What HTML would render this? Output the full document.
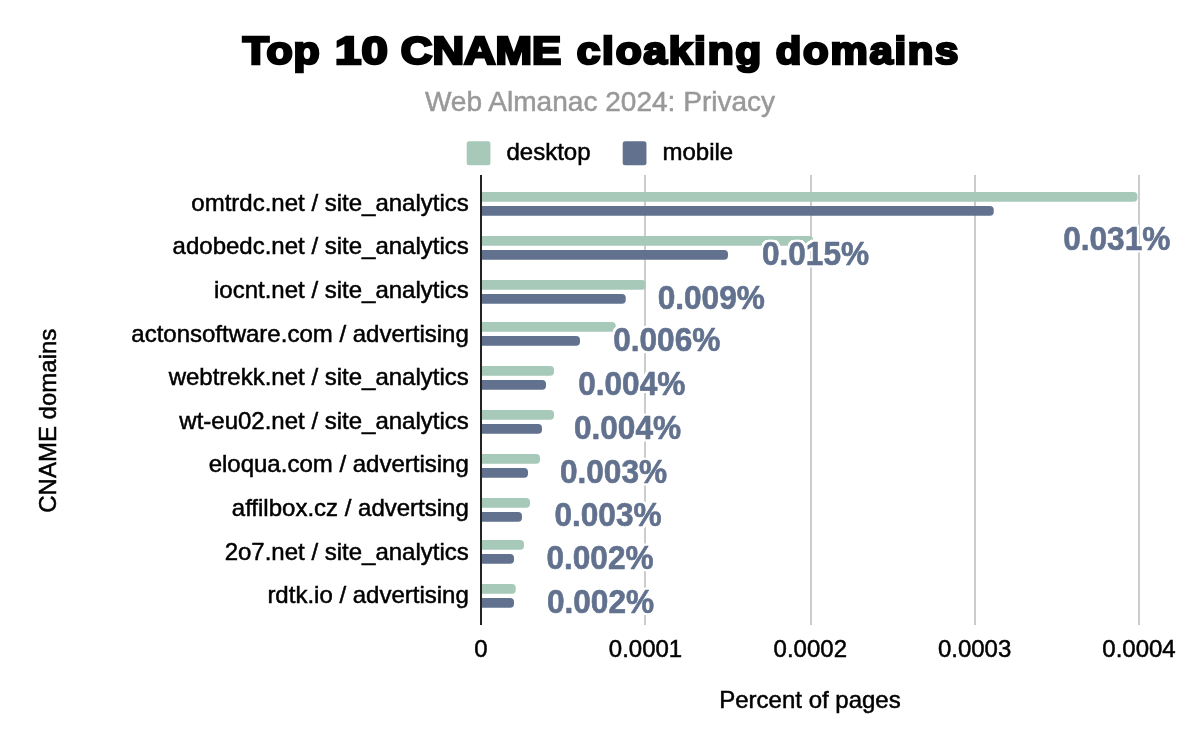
<!DOCTYPE html>
<html><head><meta charset="utf-8"><title>Top 10 CNAME cloaking domains</title>
<style>
html,body{margin:0;padding:0;background:#fff;}
svg{display:block;font-family:"Liberation Sans",Arial,sans-serif;}
.t{font-size:24px;fill:#000;stroke:#000;stroke-width:0.5px;}
.lb{font-size:32px;font-weight:bold;}
.halo{fill:#fff;stroke:#fff;stroke-width:4px;stroke-linejoin:round;}
.dl{fill:#61718e;stroke:#61718e;stroke-width:0.6px;stroke-linejoin:round;}
</style></head><body>
<svg width="1200" height="742" viewBox="0 0 1200 742">
<rect width="1200" height="742" fill="#fff"/>
<text y="63.8" font-size="38.6" font-weight="bold" fill="#000" stroke="#000" stroke-width="2.6" stroke-linejoin="miter"><tspan x="242.71" letter-spacing="0.8" textLength="77.95" lengthAdjust="spacingAndGlyphs">Top</tspan> <tspan x="335.12" letter-spacing="0" textLength="52.62" lengthAdjust="spacingAndGlyphs">10</tspan> <tspan x="400.88" letter-spacing="0" textLength="160.31" lengthAdjust="spacingAndGlyphs">CNAME</tspan> <tspan x="576.74" letter-spacing="1.6" textLength="186.3" lengthAdjust="spacingAndGlyphs">cloaking</tspan> <tspan x="775.8" letter-spacing="1.6" textLength="184.31" lengthAdjust="spacingAndGlyphs">domains</tspan></text>
<text x="600" y="110.8" text-anchor="middle" font-size="28.05" fill="#999" stroke="#999" stroke-width="0.5">Web Almanac 2024: Privacy</text>
<rect x="466.7" y="141.25" width="23.75" height="23.9" rx="2.5" fill="#a6c9ba"/>
<text class="t" x="506.5" y="159.5">desktop</text>
<rect x="622.7" y="141.25" width="23.75" height="23.9" rx="2.5" fill="#61718e"/>
<text class="t" x="662.5" y="159.5">mobile</text>
<rect x="644" y="175" width="2" height="450" fill="#ccc"/>
<rect x="810" y="175" width="2" height="450" fill="#ccc"/>
<rect x="974" y="175" width="2" height="450" fill="#ccc"/>
<rect x="1138" y="175" width="2" height="450" fill="#ccc"/>
<path d="M481 192.00 H1133.60 a3.9 3.9 0 0 1 3.9 3.9 V197.85 a3.9 3.9 0 0 1 -3.9 3.9 H481 Z" fill="#a6c9ba"/>
<path d="M481 206.00 H989.85 a3.9 3.9 0 0 1 3.9 3.9 V211.85 a3.9 3.9 0 0 1 -3.9 3.9 H481 Z" fill="#61718e"/>
<path d="M481 236.00 H809.35 a3.9 3.9 0 0 1 3.9 3.9 V241.85 a3.9 3.9 0 0 1 -3.9 3.9 H481 Z" fill="#a6c9ba"/>
<path d="M481 250.00 H724.10 a3.9 3.9 0 0 1 3.9 3.9 V255.85 a3.9 3.9 0 0 1 -3.9 3.9 H481 Z" fill="#61718e"/>
<path d="M481 280.00 H641.85 a3.9 3.9 0 0 1 3.9 3.9 V285.85 a3.9 3.9 0 0 1 -3.9 3.9 H481 Z" fill="#a6c9ba"/>
<path d="M481 294.00 H621.85 a3.9 3.9 0 0 1 3.9 3.9 V299.85 a3.9 3.9 0 0 1 -3.9 3.9 H481 Z" fill="#61718e"/>
<path d="M481 322.00 H611.85 a3.9 3.9 0 0 1 3.9 3.9 V327.85 a3.9 3.9 0 0 1 -3.9 3.9 H481 Z" fill="#a6c9ba"/>
<path d="M481 336.00 H576.10 a3.9 3.9 0 0 1 3.9 3.9 V341.85 a3.9 3.9 0 0 1 -3.9 3.9 H481 Z" fill="#61718e"/>
<path d="M481 366.00 H550.10 a3.9 3.9 0 0 1 3.9 3.9 V371.85 a3.9 3.9 0 0 1 -3.9 3.9 H481 Z" fill="#a6c9ba"/>
<path d="M481 380.00 H542.10 a3.9 3.9 0 0 1 3.9 3.9 V385.85 a3.9 3.9 0 0 1 -3.9 3.9 H481 Z" fill="#61718e"/>
<path d="M481 410.00 H550.10 a3.9 3.9 0 0 1 3.9 3.9 V415.85 a3.9 3.9 0 0 1 -3.9 3.9 H481 Z" fill="#a6c9ba"/>
<path d="M481 424.00 H538.10 a3.9 3.9 0 0 1 3.9 3.9 V429.85 a3.9 3.9 0 0 1 -3.9 3.9 H481 Z" fill="#61718e"/>
<path d="M481 454.00 H536.10 a3.9 3.9 0 0 1 3.9 3.9 V459.85 a3.9 3.9 0 0 1 -3.9 3.9 H481 Z" fill="#a6c9ba"/>
<path d="M481 468.00 H524.10 a3.9 3.9 0 0 1 3.9 3.9 V473.85 a3.9 3.9 0 0 1 -3.9 3.9 H481 Z" fill="#61718e"/>
<path d="M481 498.00 H526.10 a3.9 3.9 0 0 1 3.9 3.9 V503.85 a3.9 3.9 0 0 1 -3.9 3.9 H481 Z" fill="#a6c9ba"/>
<path d="M481 512.00 H518.10 a3.9 3.9 0 0 1 3.9 3.9 V517.85 a3.9 3.9 0 0 1 -3.9 3.9 H481 Z" fill="#61718e"/>
<path d="M481 540.00 H520.10 a3.9 3.9 0 0 1 3.9 3.9 V545.85 a3.9 3.9 0 0 1 -3.9 3.9 H481 Z" fill="#a6c9ba"/>
<path d="M481 554.00 H510.10 a3.9 3.9 0 0 1 3.9 3.9 V559.85 a3.9 3.9 0 0 1 -3.9 3.9 H481 Z" fill="#61718e"/>
<path d="M481 584.00 H511.85 a3.9 3.9 0 0 1 3.9 3.9 V589.85 a3.9 3.9 0 0 1 -3.9 3.9 H481 Z" fill="#a6c9ba"/>
<path d="M481 598.00 H510.10 a3.9 3.9 0 0 1 3.9 3.9 V603.85 a3.9 3.9 0 0 1 -3.9 3.9 H481 Z" fill="#61718e"/>
<rect x="480" y="175" width="2" height="450" fill="#222"/>
<text class="t" x="468.8" y="210.70" text-anchor="end">omtrdc.net / site_analytics</text>
<text class="t" x="468.8" y="254.32" text-anchor="end">adobedc.net / site_analytics</text>
<text class="t" x="468.8" y="297.94" text-anchor="end">iocnt.net / site_analytics</text>
<text class="t" x="468.8" y="341.56" text-anchor="end">actonsoftware.com / advertising</text>
<text class="t" x="468.8" y="385.18" text-anchor="end">webtrekk.net / site_analytics</text>
<text class="t" x="468.8" y="428.80" text-anchor="end">wt-eu02.net / site_analytics</text>
<text class="t" x="468.8" y="472.42" text-anchor="end">eloqua.com / advertising</text>
<text class="t" x="468.8" y="516.04" text-anchor="end">affilbox.cz / advertsing</text>
<text class="t" x="468.8" y="559.66" text-anchor="end">2o7.net / site_analytics</text>
<text class="t" x="468.8" y="603.28" text-anchor="end">rdtk.io / advertising</text>
<defs><filter id="halo" x="-6%" y="-25%" width="112%" height="150%" color-interpolation-filters="sRGB"><feMorphology in="SourceAlpha" operator="dilate" radius="2" result="d"/><feGaussianBlur in="d" stdDeviation="0.45" result="b"/><feComponentTransfer in="b" result="m"><feFuncA type="linear" slope="2.2" intercept="-0.15"/></feComponentTransfer><feFlood flood-color="#fff" result="f"/><feComposite in="f" in2="m" operator="in" result="w"/><feMerge><feMergeNode in="w"/><feMergeNode in="SourceGraphic"/></feMerge></filter></defs>
<g filter="url(#halo)">
<text class="lb dl" textLength="107.2" lengthAdjust="spacingAndGlyphs" transform="translate(1063.15 250.00) scale(1 1.04)">0.031%</text>
<text class="lb dl" textLength="107.2" lengthAdjust="spacingAndGlyphs" transform="translate(761.90 264.75) scale(1 1.04)">0.015%</text>
<text class="lb dl" textLength="107.2" lengthAdjust="spacingAndGlyphs" transform="translate(657.65 309.00) scale(1 1.04)">0.009%</text>
<text class="lb dl" textLength="107.2" lengthAdjust="spacingAndGlyphs" transform="translate(613.15 351.25) scale(1 1.04)">0.006%</text>
<text class="lb dl" textLength="107.2" lengthAdjust="spacingAndGlyphs" transform="translate(578.15 395.00) scale(1 1.04)">0.004%</text>
<text class="lb dl" textLength="107.2" lengthAdjust="spacingAndGlyphs" transform="translate(573.90 438.75) scale(1 1.04)">0.004%</text>
<text class="lb dl" textLength="107.2" lengthAdjust="spacingAndGlyphs" transform="translate(559.90 482.50) scale(1 1.04)">0.003%</text>
<text class="lb dl" textLength="107.2" lengthAdjust="spacingAndGlyphs" transform="translate(554.40 526.25) scale(1 1.04)">0.003%</text>
<text class="lb dl" textLength="107.2" lengthAdjust="spacingAndGlyphs" transform="translate(546.40 568.50) scale(1 1.04)">0.002%</text>
<text class="lb dl" textLength="107.2" lengthAdjust="spacingAndGlyphs" transform="translate(546.90 612.50) scale(1 1.04)">0.002%</text>
</g>
<text class="t" transform="translate(481 657.2) scale(1 1.02)" text-anchor="middle">0</text>
<text class="t" transform="translate(645.5 657.2) scale(1 1.02)" text-anchor="middle">0.0001</text>
<text class="t" transform="translate(810.3 657.2) scale(1 1.02)" text-anchor="middle">0.0002</text>
<text class="t" transform="translate(974.6 657.2) scale(1 1.02)" text-anchor="middle">0.0003</text>
<text class="t" transform="translate(1139 657.2) scale(1 1.02)" text-anchor="middle">0.0004</text>
<text class="t" x="810" y="707.5" text-anchor="middle">Percent of pages</text>
<text class="t" transform="translate(56 420.7) rotate(-90)" text-anchor="middle">CNAME domains</text>
</svg></body></html>
